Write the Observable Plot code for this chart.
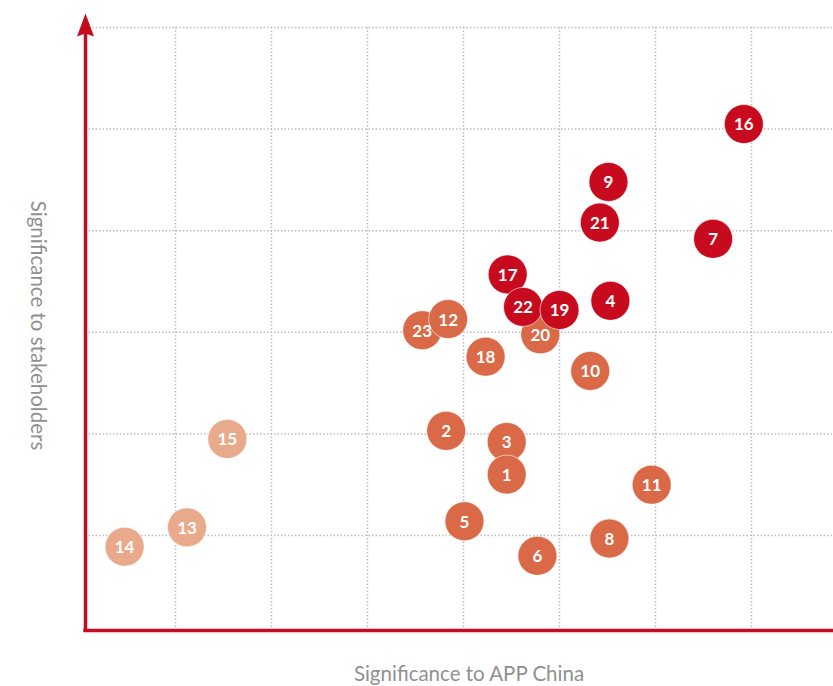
<!DOCTYPE html>
<html>
<head>
<meta charset="utf-8">
<script src="https://cdn.jsdelivr.net/npm/d3@7"></script>
<script src="https://cdn.jsdelivr.net/npm/@observablehq/plot@0.6"></script>
<style>
  html, body { margin: 0; padding: 0; background: #fff; }
  #chart svg { display: block; }
</style>
</head>
<body>
<div id="chart"></div>
<script>
// Topic ids, drawn in this order (later ones on top)
const ids        = [14, 13, 15, 23, 12, 18, 20, 10, 2, 3, 1, 5, 6, 8, 11, 17, 22, 19, 4, 9, 21, 7, 16];
// Significance to APP China (x) and to stakeholders (y)
const appChina   = [0.47, 1.12, 1.54, 3.57, 3.84, 4.23, 4.80, 5.32, 3.82, 4.45, 4.45, 4.01, 4.77, 5.52, 5.96, 4.46, 4.62, 5.00, 5.53, 5.51, 5.42, 6.60, 6.92];
const stakehold  = [0.89, 1.08, 1.95, 3.02, 3.13, 2.76, 2.98, 2.62, 2.03, 1.92, 1.60, 1.14, 0.80, 0.97, 1.50, 3.57, 3.25, 3.22, 3.31, 4.48, 4.08, 3.92, 5.05];
const level      = ["low", "low", "low", "mid", "mid", "mid", "mid", "mid", "mid", "mid", "mid", "mid", "mid", "mid", "mid", "high", "high", "high", "high", "high", "high", "high", "high"];

const levels = ["low", "mid", "high"];
const levelColors = ["#e9a98b", "#d96947", "#c80a1e"];

const xGrid = [1, 2, 3, 4, 5, 6, 7];
const yGrid = [1, 2, 3, 4, 5, 6];
const xDomain = [0.0625, 7.854];
const yDomain = [0.065, 6.266];
const yAxisTop = 6.05;

const xLabel = "Significance to APP China";
const yLabel = "Significance to stakeholders";

const data = ids.map((id, i) => ({id, x: appChina[i], y: stakehold[i], level: level[i]}));

const axisRed = "#c80a1e";
const gridColor = "#bdbdbd";

const arrowHead = {
  draw(context) {
    context.moveTo(0, -12);
    context.lineTo(8.5, 11);
    context.lineTo(0, 8);
    context.lineTo(-8.5, 11);
    context.closePath();
  }
};

const chart = Plot.plot({
  width: 833,
  height: 686,
  marginLeft: 85,
  marginRight: 0,
  marginTop: 0,
  marginBottom: 56,
  style: {fontFamily: "Lato, 'Noto Sans', sans-serif", background: "#fff"},
  x: {domain: xDomain, axis: null},
  y: {domain: yDomain, axis: null},
  color: {domain: levels, range: levelColors},
  marks: [
    // horizontal grid
    Plot.ruleY(yGrid, {y: d => d, stroke: gridColor, strokeWidth: 1.5, strokeDasharray: "1.5,2"}),
    // vertical grid (from top grid line down to the axis)
    Plot.ruleX(xGrid, {x: d => d, y1: () => yGrid[yGrid.length - 1], y2: () => yDomain[0], stroke: gridColor, strokeWidth: 1.5, strokeDasharray: "1.5,2"}),
    // axes
    Plot.ruleY([yDomain[0]], {y: d => d, x1: () => xDomain[0], x2: () => xDomain[1], stroke: axisRed, strokeWidth: 3.5, insetLeft: -1.75}),
    Plot.ruleX([xDomain[0]], {x: d => d, y1: () => yDomain[0], y2: () => yAxisTop, stroke: axisRed, strokeWidth: 3.5}),
    Plot.dot([xDomain[0]], {x: d => d, y: () => yDomain[1], symbol: arrowHead, fill: axisRed, stroke: "none", dy: 25}),
    // bubbles
    Plot.dot(data, {x: "x", y: "y", r: 19.5, fill: "level", stroke: "#fff", strokeWidth: 1, strokeOpacity: 0.6}),
    Plot.text(data, {x: "x", y: "y", text: "id", fill: "#fff", fontSize: 17, fontWeight: 700, dy: 1}),
    // axis titles
    Plot.text([xLabel], {frameAnchor: "bottom", text: d => d, textAnchor: "middle", dx: 9.5, dy: 50, fontSize: 20.5, fill: "#909090"}),
    Plot.text([yLabel], {frameAnchor: "left", text: d => d, textAnchor: "middle", rotate: 90, dx: -48, dy: 10, fontSize: 20.5, fill: "#909090"})
  ]
});

document.getElementById("chart").appendChild(chart);
</script>
</body>
</html>
